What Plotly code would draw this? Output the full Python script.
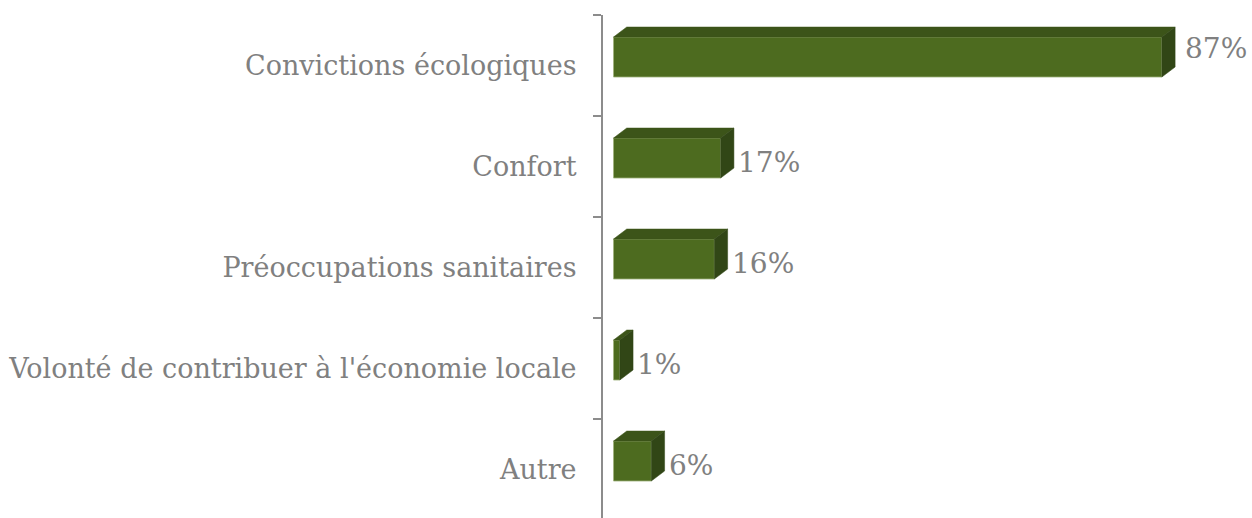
import plotly.graph_objects as go

categories = ["Convictions écologiques", "Confort", "Préoccupations sanitaires",
              "Volonté de contribuer à l'économie locale", "Autre"]
values = [87, 17, 16, 1, 6]
value_labels = ["87%", "17%", "16%", "1%", "6%"]

FRONT = "#4d6b1f"
TOP = "#3c5419"
SIDE = "#314616"
EDGE = "#9fb27c"
TEXT = "#808080"
FONT = "DejaVu Serif"

# 3D geometry (data units)
offset = -0.282   # front face top relative to category centre
width = 0.396     # front face height
dx = 2.1          # depth along x (value units)
dy = 0.099        # depth along y (category units)

pos = list(range(len(categories)))

fig = go.Figure()

fig.add_trace(go.Bar(
    x=values, y=pos, orientation="h", base=0,
    width=width, offset=offset,
    marker=dict(color=FRONT, line=dict(color=EDGE, width=0.8)),
    hoverinfo="skip", showlegend=False,
))

for i, v in zip(pos, values):
    t = i + offset
    b = t + width
    # top face
    fig.add_trace(go.Scatter(
        x=[0, v, v + dx, dx, 0], y=[t, t, t - dy, t - dy, t],
        mode="lines", fill="toself", fillcolor=TOP,
        line=dict(color=TOP, width=0.5), hoverinfo="skip", showlegend=False,
    ))
    # side face
    fig.add_trace(go.Scatter(
        x=[v, v + dx, v + dx, v, v], y=[t, t - dy, b - dy, b, t],
        mode="lines", fill="toself", fillcolor=SIDE,
        line=dict(color=SIDE, width=0.5), hoverinfo="skip", showlegend=False,
    ))

vmax = max(values)
for i, v, lab in zip(pos, values, value_labels):
    is_max = v == vmax
    fig.add_annotation(
        x=v + dx, y=i, text=lab, showarrow=False,
        xanchor="left", yanchor="middle",
        xshift=8 if is_max else 2,
        yshift=17 if is_max else 4,
        font=dict(family=FONT, size=28, color=TEXT),
    )

fig.update_layout(
    width=1252, height=518,
    margin=dict(l=603, r=0, t=15, b=0),
    paper_bgcolor="white", plot_bgcolor="white",
    xaxis=dict(range=[-1.67, 101.3], visible=False, fixedrange=True),
    yaxis=dict(
        range=[4.48, -0.5], fixedrange=True,
        tickvals=pos, ticktext=categories,
        ticks="", showgrid=False, zeroline=False,
        showline=True, linecolor="#8c8c8c", linewidth=2,
        ticklabelstandoff=19,
        tickfont=dict(family=FONT, size=27, color=TEXT),
        minor=dict(ticks="outside", tick0=-0.5, dtick=1, ticklen=8,
                   tickcolor="#8c8c8c", tickwidth=2, showgrid=False),
    ),
)

fig.write_html("out.html", config={"displayModeBar": False},
               post_script="document.body.style.margin='0';document.body.style.overflow='hidden';")
